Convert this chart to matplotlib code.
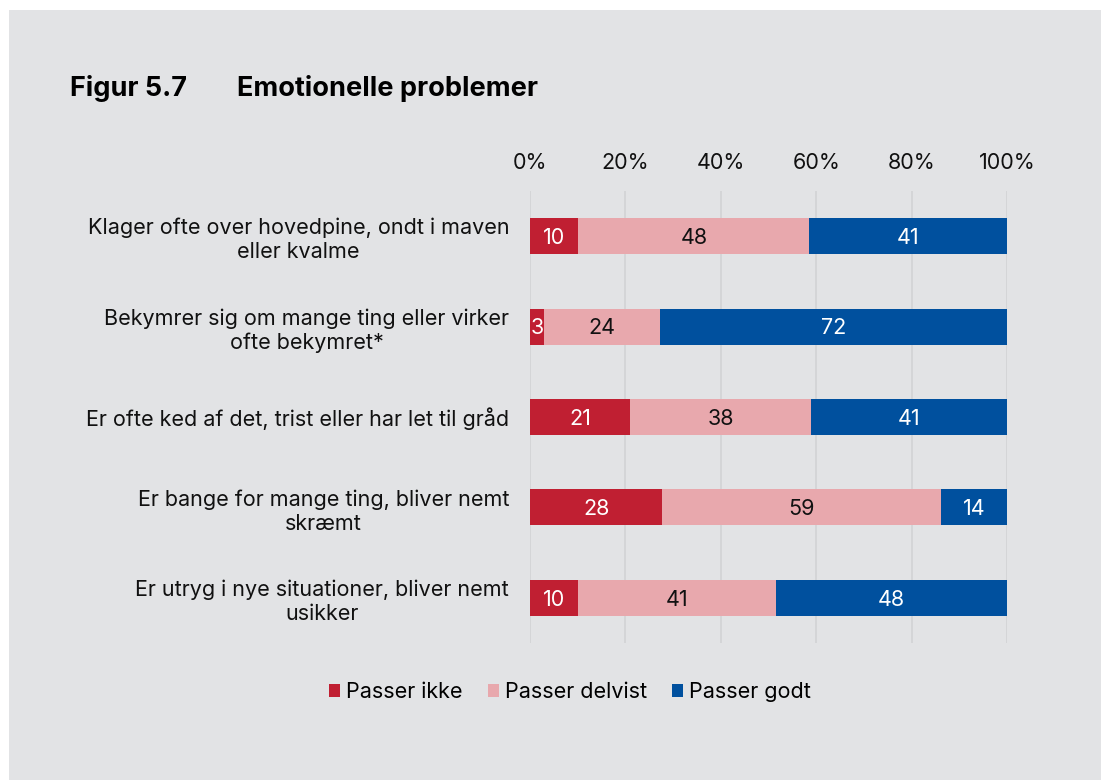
import matplotlib.pyplot as plt
import numpy as np
from matplotlib.patches import Rectangle

## data
categories = [
    "Klager ofte over hovedpine, ondt i maven\neller kvalme",
    "Bekymrer sig om mange ting eller virker\nofte bekymret*",
    "Er ofte ked af det, trist eller har let til gråd",
    "Er bange for mange ting, bliver nemt\nskræmt",
    "Er utryg i nye situationer, bliver nemt\nusikker",
]
passer_ikke = [10, 3, 21, 28, 10]
passer_delvist = [48, 24, 38, 59, 41]
passer_godt = [41, 72, 41, 14, 48]
series_names = ["Passer ikke", "Passer delvist", "Passer godt"]
tick_labels = ["0%", "20%", "40%", "60%", "80%", "100%"]

## style
colors = ["#c01f32", "#e8a8ad", "#00509e"]
text_colors = ["white", "#111111", "white"]
bg = "#e2e3e5"
fs = 15.5
plt.rcParams['font.family'] = ['Inter', 'DejaVu Sans']

fig = plt.figure(figsize=(11.01, 7.8), dpi=100)
fig.patch.set_facecolor("white")
fig.patches.append(Rectangle((9 / 1101, 0), 1 - 9 / 1101, 1 - 10 / 780,
                             transform=fig.transFigure, facecolor=bg,
                             edgecolor="none", zorder=-10))

ax = fig.add_axes([530 / 1101, 1 - 643 / 780, 477 / 1101, 452 / 780])
ax.set_zorder(2)
ax.set_facecolor("none")

## stack as share of 100%
data = np.array([passer_ikke, passer_delvist, passer_godt], dtype=float)
shares = data / data.sum(axis=0) * 100
y = np.arange(len(categories))
left = np.zeros(len(categories))
for i in range(3):
    ax.barh(y, shares[i], left=left, height=0.4, color=colors[i],
            label=series_names[i], zorder=3)
    for j in range(len(categories)):
        ax.text(left[j] + shares[i][j] / 2, y[j] + 0.02, str(int(data[i][j])),
                ha="center", va="center", fontsize=fs, color=text_colors[i],
                zorder=4)
    left += shares[i]

ax.set_xlim(0, 100)
ax.set_ylim(len(categories) - 0.5, -0.5)
ax.set_xticks(np.arange(0, 101, 20))
ax.set_xticklabels(tick_labels, fontsize=fs, color="#111111")
ax.xaxis.tick_top()
ax.tick_params(axis="x", length=0, pad=13)
ax.set_yticks(y)
ax.set_yticklabels(categories, fontsize=fs, color="#111111",
                   multialignment="center", linespacing=1.25)
ax.tick_params(axis="y", length=0, pad=15)
ax.grid(axis="x", color="#d2d3d5", linewidth=1.2, zorder=0)
for s in ax.spines.values():
    s.set_visible(False)

## title
fig.text(70 / 1101, 1 - 88 / 780, "Figur 5.7", fontsize=19.5, fontweight="bold",
         va="center", color="black")
fig.text(237 / 1101, 1 - 88 / 780, "Emotionelle problemer", fontsize=19.5,
         fontweight="bold", va="center", color="black")

## legend
fig.legend(loc="center", bbox_to_anchor=(570 / 1101, 1 - 692 / 780), ncol=3,
           frameon=False, fontsize=fs, handlelength=0.52, handleheight=0.52,
           handletextpad=0.28, columnspacing=1.15)

plt.savefig("out.png", dpi=100, facecolor=fig.get_facecolor())
